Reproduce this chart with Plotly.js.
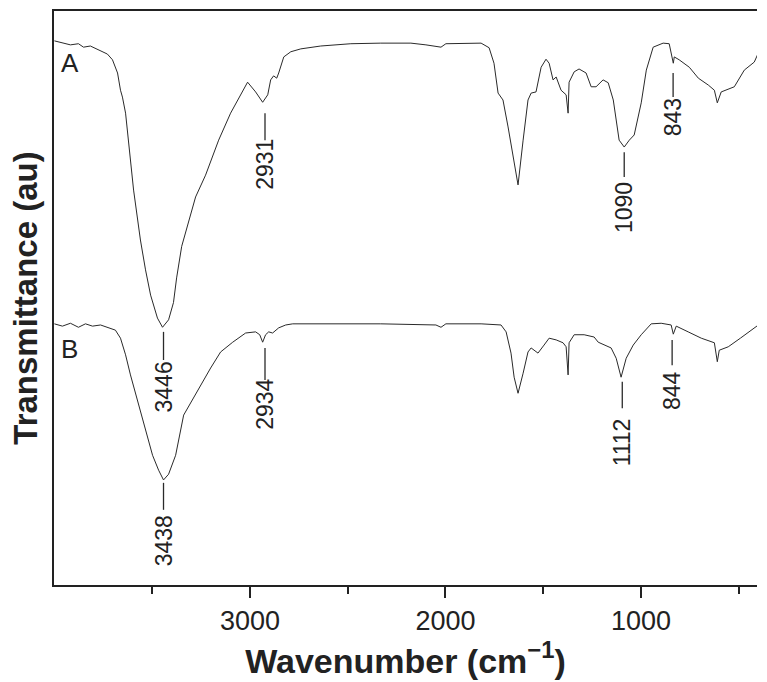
<!DOCTYPE html>
<html>
<head>
<meta charset="utf-8">
<script src="https://cdn.plot.ly/plotly-3.0.1.min.js"></script>
<style>html,body{margin:0;padding:0;background:#fff;}#chart{width:767px;height:682px;}</style>
</head>
<body>
<div id="chart"></div>
<script>
// Wavenumber (cm-1) and transmittance (au, 0-100 scale)
const waveA = [4000,3959,3918,3877,3851,3816,3785,3754,3729,3703,3677,3662,3652,3636,3621,3595,3560,3534,3508,3473,3447,3416,3391,3375,3349,3314,3278,3227,3160,3099,3048,3012,2971,2935,2909,2894,2879,2863,2853,2827,2791,2740,2638,2484,2331,2177,2100,2023,1998,1870,1818,1777,1752,1731,1706,1680,1655,1629,1603,1578,1562,1537,1511,1486,1470,1450,1434,1409,1383,1373,1368,1342,1317,1281,1255,1230,1194,1168,1142,1127,1112,1086,1060,1035,999,973,938,887,856,835,830,805,753,707,656,625,610,590,523,472,421,400];
const transA = [94.8,94.4,94.1,94.3,93.7,93.9,93.4,92.9,92.5,91.5,89.2,86.2,85.0,82.2,77.5,68.8,60.1,54.9,50.5,46.5,44.9,46.2,49.2,53.5,59.0,63.2,67.6,71.4,77.5,82.2,85.4,87.6,85.9,84.1,85.4,88.0,88.7,88.3,89.2,92.0,92.9,93.4,93.9,94.3,94.4,94.4,94.1,93.7,94.3,94.4,94.4,93.6,90.9,85.7,84.5,79.8,74.6,69.7,77.5,84.5,85.7,85.9,90.2,91.6,90.9,88.0,88.5,86.2,85.4,82.2,87.6,89.4,89.9,89.2,86.8,86.8,88.0,87.5,84.5,80.5,77.5,76.3,77.5,78.4,84.0,89.7,93.7,94.4,94.3,90.9,92.0,91.5,90.2,88.3,87.1,86.2,84.0,85.9,86.8,89.7,91.1,92.7];
const waveB = [4000,3959,3918,3877,3841,3805,3764,3723,3688,3662,3636,3611,3575,3534,3498,3467,3442,3416,3380,3339,3304,3252,3201,3150,3088,3022,2971,2950,2935,2920,2904,2884,2853,2817,2781,2331,2049,2023,1998,1818,1716,1690,1665,1649,1629,1603,1578,1562,1527,1496,1470,1434,1399,1383,1373,1368,1342,1291,1240,1219,1189,1153,1127,1102,1076,1040,999,948,897,846,835,820,759,692,625,610,600,554,492,421,400];
const transB = [45.5,45.1,45.6,44.9,45.5,45.1,45.3,44.8,44.4,43.0,40.1,36.6,32.2,27.4,22.6,20.0,18.3,19.3,22.6,29.6,31.7,34.8,37.8,40.6,42.3,43.9,44.1,43.6,42.3,43.6,44.1,43.9,44.8,45.3,45.5,45.5,45.3,44.9,45.5,45.5,45.3,44.1,40.4,36.2,33.4,36.9,40.6,41.3,40.4,41.8,43.0,42.7,42.2,41.5,36.6,42.2,43.6,43.6,43.2,42.3,41.8,41.3,39.5,36.2,39.5,41.8,43.6,45.5,45.6,45.3,43.7,45.1,44.1,43.0,42.2,38.9,40.9,41.5,43.0,44.8,45.3];

// Peak labels (wavenumber text) for each spectrum
const peaksA = ["3446","2931","1090","843"];
const peaksB = ["3438","2934","1112","844"];
const xTickVals = [3000, 2000, 1000];
const xTickText = ["3000", "2000", "1000"];
const seriesNames = ["A", "B"];

// Label placement (layout only): [x in cm-1, line top, line bottom, text centre]
const placeA = [[3442,44.1,39.2,34.5],[2923,82.2,77.5,73.2],[1086,75.4,71.1,65.7],[836,89.2,85.0,81.5]];
const placeB = [[3442,17.8,13.1,7.7],[2923,41.3,35.7,31.4],[1096,35.4,30.8,24.9],[841,42.7,38.3,33.8]];

const lineColor = '#2a2a2a';
const traces = [
  {x: waveA, y: transA, name: seriesNames[0], mode: 'lines', line: {color: lineColor, width: 1}},
  {x: waveB, y: transB, name: seriesNames[1], mode: 'lines', line: {color: lineColor, width: 1}}
];

const narrow = 'Liberation Sans Narrow, Arial Narrow, Liberation Sans, Arial, sans-serif';
const annotations = [];
const shapes = [];
function addPeaks(labels, place) {
  labels.forEach((t, i) => {
    const p = place[i];
    shapes.push({type: 'line', xref: 'x', yref: 'y', x0: p[0], x1: p[0], y0: p[1], y1: p[2],
      line: {color: '#2a2a2a', width: 1.3}});
    annotations.push({xref: 'x', yref: 'y', x: p[0], y: p[3], text: t, textangle: -90,
      showarrow: false, xanchor: 'center', yanchor: 'middle',
      font: {family: narrow, size: 23, color: '#222'}});
  });
}
addPeaks(peaksA, placeA);
addPeaks(peaksB, placeB);
annotations.push({xref: 'x', yref: 'y', x: 3921, y: 90.9, text: seriesNames[0], showarrow: false,
  xanchor: 'center', yanchor: 'middle', font: {family: 'Liberation Sans, Arial, sans-serif', size: 26, color: '#222'}});
annotations.push({xref: 'x', yref: 'y', x: 3923, y: 41.2, text: seriesNames[1], showarrow: false,
  xanchor: 'center', yanchor: 'middle', font: {family: 'Liberation Sans, Arial, sans-serif', size: 26, color: '#222'}});

const layout = {
  width: 767, height: 682,
  margin: {l: 54, r: 10, t: 11, b: 97},
  paper_bgcolor: '#fff', plot_bgcolor: '#fff',
  showlegend: false,
  font: {family: 'Liberation Sans, Arial, sans-serif', color: '#222'},
  xaxis: {
    range: [4002, 407], showgrid: false, zeroline: false,
    showline: true, linecolor: '#222', linewidth: 2, mirror: true,
    tickmode: 'array', tickvals: xTickVals, ticktext: xTickText,
    ticks: 'outside', ticklen: 11, tickwidth: 2, tickcolor: '#222',
    tickfont: {size: 27, color: '#222'},
    minor: {tickmode: 'array', tickvals: [3500, 2500, 1500, 500], ticks: 'outside', ticklen: 7, tickwidth: 2, tickcolor: '#222', showgrid: false},
    title: {text: '<b>Wavenumber (cm<sup>−1</sup>)</b>', font: {size: 34, color: '#222'}, standoff: 6}
  },
  yaxis: {
    range: [0, 100], showgrid: false, zeroline: false,
    showline: true, linecolor: '#222', linewidth: 2,
    showticklabels: false, ticks: '',
    title: {text: '<b>Transmittance (au)</b>', font: {size: 33, color: '#222'}, standoff: 4}
  },
  annotations: annotations,
  shapes: shapes
};

Plotly.newPlot('chart', traces, layout, {displayModeBar: false, staticPlot: true});
</script>
</body>
</html>
